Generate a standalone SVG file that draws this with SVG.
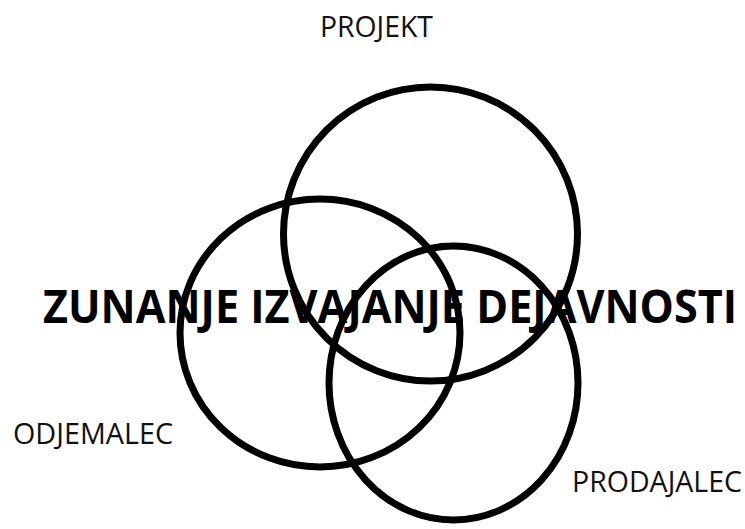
<svg xmlns="http://www.w3.org/2000/svg" width="745" height="529" viewBox="0 0 745 529">
  <style>
    .ring { fill: none; stroke: #000; stroke-width: 7; }
    .lbl { font-family: "Open Sans", "Noto Sans", "Liberation Sans", sans-serif; font-size: 29px; fill: #111; }
    .title { font-family: "Open Sans", "Noto Sans", "Liberation Sans", sans-serif; font-size: 46px; font-weight: bold; fill: #000; }
  </style>
  <rect width="745" height="529" fill="#fff"/>
  <g id="title">
    <text class="title" x="43" y="323" textLength="694" lengthAdjust="spacingAndGlyphs">ZUNANJE IZVAJANJE DEJAVNOSTI</text>
  </g>
  <g id="projekt">
    <ellipse class="ring" cx="430.5" cy="234" rx="147" ry="147"/>
    <text class="lbl" x="320" y="37" textLength="113" lengthAdjust="spacingAndGlyphs">PROJEKT</text>
  </g>
  <g id="odjemalec">
    <ellipse class="ring" cx="320" cy="333" rx="140" ry="134"/>
    <text class="lbl" x="13" y="444" textLength="160" lengthAdjust="spacingAndGlyphs">ODJEMALEC</text>
  </g>
  <g id="prodajalec">
    <ellipse class="ring" cx="453.5" cy="383" rx="124.5" ry="137"/>
    <text class="lbl" x="572" y="492" textLength="170" lengthAdjust="spacingAndGlyphs">PRODAJALEC</text>
  </g>
  <g id="connectors"/>
</svg>
